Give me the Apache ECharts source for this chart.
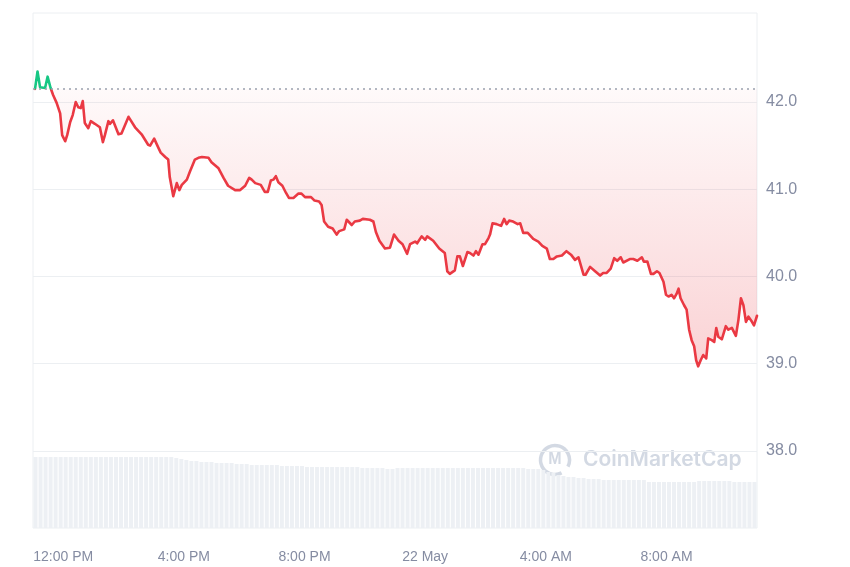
<!DOCTYPE html>
<html>
<head>
<meta charset="utf-8">
<script src="https://cdn.jsdelivr.net/npm/echarts@6/dist/echarts.min.js"></script>
<style>
html,body{margin:0;padding:0;background:#fff;}
#chart{width:850px;height:567px;}
</style>
</head>
<body>
<div id="chart"></div>
<script>
// Minutes since 21 May 11:00
const priceMinutes = [4,9,14,24,29,35,40,47,54,58,64,68,74,79,85,90,95,99,103,110,115,123,133,139,143,150,153,159,170,176,190,193,203,216,229,233,241,249,254,263,269,272,279,286,291,296,306,312,322,329,336,349,355,369,379,388,402,412,422,430,435,442,453,461,467,473,478,483,488,496,503,509,518,528,534,541,553,560,569,574,579,587,596,604,609,619,624,634,640,650,656,670,677,682,689,700,710,718,727,735,744,750,760,764,773,780,784,796,808,819,824,829,839,844,849,855,864,869,876,881,886,894,899,906,909,914,922,931,937,942,947,955,964,969,975,984,995,1005,1013,1022,1028,1035,1042,1052,1055,1061,1070,1078,1085,1095,1099,1108,1118,1128,1134,1141,1149,1156,1162,1169,1174,1187,1194,1202,1211,1215,1222,1229,1234,1241,1246,1254,1259,1264,1270,1275,1280,1284,1288,1295,1300,1305,1310,1315,1319,1323,1328,1333,1339,1343,1350,1355,1359,1363,1370,1378,1383,1390,1398,1403,1408,1413,1418,1423,1430,1434,1440];
const prices = [42.15,42.35,42.17,42.16,42.29,42.16,42.08,41.99,41.87,41.62,41.55,41.62,41.77,41.85,42.00,41.94,41.93,42.01,41.76,41.70,41.78,41.75,41.71,41.54,41.62,41.78,41.75,41.79,41.63,41.64,41.83,41.82,41.71,41.63,41.51,41.50,41.58,41.48,41.42,41.37,41.34,41.14,40.92,41.07,40.99,41.05,41.11,41.20,41.34,41.36,41.37,41.36,41.31,41.24,41.13,41.04,40.99,40.99,41.04,41.13,41.11,41.07,41.05,40.97,40.97,41.10,41.11,41.15,41.08,41.04,40.96,40.90,40.90,40.95,40.95,40.91,40.91,40.87,40.86,40.82,40.63,40.57,40.55,40.48,40.52,40.54,40.65,40.59,40.63,40.64,40.66,40.65,40.63,40.51,40.41,40.32,40.33,40.48,40.41,40.37,40.26,40.37,40.40,40.38,40.46,40.42,40.46,40.41,40.32,40.27,40.06,40.03,40.07,40.23,40.23,40.12,40.28,40.27,40.24,40.29,40.25,40.37,40.37,40.44,40.48,40.61,40.60,40.58,40.66,40.60,40.64,40.63,40.60,40.61,40.50,40.50,40.43,40.40,40.35,40.32,40.20,40.20,40.23,40.24,40.23,40.29,40.25,40.19,40.22,40.02,40.02,40.11,40.06,40.01,40.04,40.04,40.09,40.21,40.18,40.22,40.16,40.20,40.20,40.18,40.22,40.17,40.17,40.03,40.03,40.06,40.04,39.94,39.79,39.77,39.79,39.75,39.80,39.86,39.75,39.67,39.62,39.39,39.27,39.20,39.04,38.97,39.04,39.10,39.06,39.29,39.27,39.25,39.41,39.31,39.28,39.43,39.39,39.41,39.32,39.50,39.75,39.67,39.48,39.54,39.48,39.44,39.55];
const openPrice = 42.146;

// Volume bars, every 10 minutes starting at 11:05 (relative units)
const volumeStartMinute = 5;
const volumeStepMinutes = 10;
const volumes = [
  71,71,71,71,71,71,71,71,71,71,71,71,71,71,71,71,71,71,71,71,71,71,71,71,71,71,71,71,
  70,69,
  68,67,67,66,66,66,65,
  65,65,65,
  64,64,64,63,63,63,63,63,
  63,62,62,62,62,62,61,61,
  61,61,61,61,61,61,61,61,61,
  60,60,60,60,60,59,59,
  60,60,60,60,60,60,60,60,60,60,60,60,60,60,60,60,60,60,60,60,60,60,60,60,60,
  60,59,59,59,
  58,56,55,53,52,51,
  51,50,50,49,49,49,
  48,48,48,48,48,48,48,48,48,
  46,46,46,46,46,46,46,46,46,46,
  47,47,47,47,47,47,47,
  46,46,46,46,46
];

const xTickMinutes = [60, 300, 540, 780, 1020, 1260];
const xTickLabels = ['12:00 PM', '4:00 PM', '8:00 PM', '22 May', '4:00 AM', '8:00 AM'];
const yTicks = [38, 39, 40, 41, 42];

const priceData = [];
for (let i = 0; i < Math.min(priceMinutes.length, prices.length); i++) priceData.push([priceMinutes[i], prices[i]]);
const volumeData = volumes.map((v, i) => [volumeStartMinute + i * volumeStepMinutes, v]);

const RED = '#ea3943', GREEN = '#16c784', LABEL = '#858ca2';
const chart = echarts.init(document.getElementById('chart'));
chart.setOption({
  animation: false,
  backgroundColor: '#ffffff',
  grid: { left: 33, right: 93, top: 13, bottom: 39, show: true, borderColor: '#eceff2', borderWidth: 1 },
  xAxis: {
    type: 'value', min: 0, max: 1440,
    axisLine: { show: false }, axisTick: { show: false }, splitLine: { show: false },
    axisLabel: {
      customValues: xTickMinutes,
      formatter: v => xTickLabels[xTickMinutes.indexOf(Math.round(v))] || '',
      color: LABEL, fontSize: 14, fontFamily: 'Liberation Sans, Arial, sans-serif', margin: 22
    }
  },
  yAxis: [{
    type: 'value', position: 'right', min: 37.117, max: 43.02,
    axisLine: { show: false }, axisTick: { show: false, customValues: yTicks },
    axisLabel: { customValues: yTicks, formatter: v => v.toFixed(1), color: LABEL, fontSize: 16, fontFamily: 'Liberation Sans, Arial, sans-serif', margin: 9 },
    splitLine: { show: true, lineStyle: { color: '#eceff2', width: 1 } }
  }, {
    type: 'value', min: 0, max: 515, show: false
  }],
  graphic: [{
    type: 'group', left: 538, top: 443, z: 100, silent: true,
    children: [
      { type: 'arc', shape: { cx: 17, cy: 17, r: 14.5, startAngle: Math.PI * 0.35, endAngle: Math.PI * 2.15 }, style: { stroke: '#d3d9e3', lineWidth: 3.5, fill: null } },
      { type: 'text', style: { x: 17, y: 17, text: 'M', fill: '#d3d9e3', font: 'bold 16px Liberation Sans', align: 'center', verticalAlign: 'middle' } },
      { type: 'text', style: { x: 45, y: 17, text: 'CoinMarketCap', fill: '#d3d9e3', font: '600 21px Inter, Roboto, sans-serif', verticalAlign: 'middle' } }
    ]
  }],
  series: [{
    type: 'bar', yAxisIndex: 1, data: volumeData, barWidth: 4,
    itemStyle: { color: '#edf0f4' }, silent: true, z: 1
  }, {
    id: 'price', type: 'line', data: priceData, showSymbol: false, symbol: 'none',
    lineStyle: { width: 2.6, color: RED, join: 'round', cap: 'round' }, z: 3,
    areaStyle: {
      origin: openPrice,
      color: new echarts.graphic.LinearGradient(0, 0, 0, 1, [
        { offset: 0, color: 'rgba(234,57,67,0.02)' },
        { offset: 1, color: 'rgba(234,57,67,0.32)' }
      ])
    },
    markLine: {
      silent: true, symbol: 'none', label: { show: false },
      lineStyle: { color: '#9aa1af', type: [2, 4], width: 1.5 },
      data: [{ yAxis: openPrice }]
    }
  }]
});

// Colour the line green above the opening price and red below it
const baseY = chart.convertToPixel({ yAxisIndex: 0 }, openPrice);
chart.setOption({
  series: [{
    id: 'price',
    lineStyle: {
      color: new echarts.graphic.LinearGradient(0, baseY - 0.5, 0, baseY + 0.5, [
        { offset: 0, color: GREEN }, { offset: 1, color: RED }
      ], true)
    }
  }]
});
</script>
</body>
</html>
